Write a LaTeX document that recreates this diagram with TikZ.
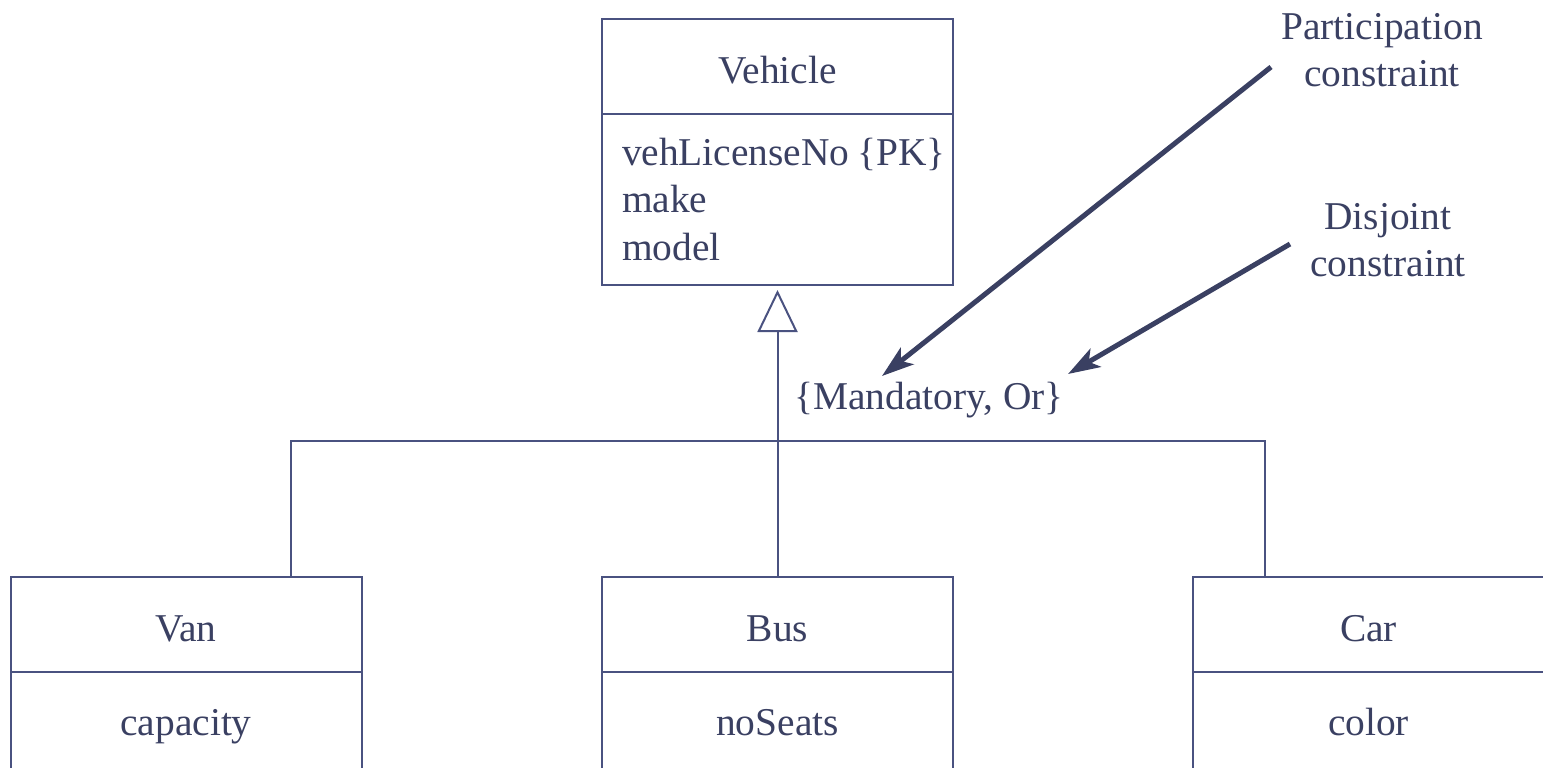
\documentclass[tikz,border=0pt]{standalone}
\usepackage{fontspec}
\setmainfont{Liberation Serif}
\usetikzlibrary{arrows.meta,calc}
\definecolor{ink}{HTML}{3A4062}
\definecolor{rulecol}{HTML}{4A5280}
\begin{document}
\begin{tikzpicture}[x=0.5pt,y=-0.5pt,
  every node/.style={text=ink, font=\fontsize{19.7pt}{23.75pt}\selectfont},
  classhead/.style={draw=rulecol, line width=1pt, outer sep=0pt,
    minimum width=175.5pt, minimum height=47.5pt, inner sep=0pt,
    text height=17pt, text depth=0pt},
  classbody/.style={draw=rulecol, line width=1pt, outer sep=0pt,
    minimum width=175.5pt, inner sep=0pt, anchor=north},
  subbody/.style={classbody, minimum height=55pt, text height=12pt, text depth=4pt},
  link/.style={draw=rulecol, line width=1pt},
  genarrow/.style={link, -{Triangle[open, length=21pt, width=20pt, fill=white]},
    shorten >=2.5pt},
  pointer/.style={draw=ink, line width=2.5pt,
    -{Stealth[length=16pt, width=10.5pt, inset=4pt]}},
  note/.style={align=center, inner sep=0pt}
]
\path[use as bounding box] (0,0) rectangle (1543,767);
\clip (0,0) rectangle (1543,767);

% superclass
\node[classhead] (vehhead) at (777.5,66.5) {Vehicle};
\node[classbody, minimum height=85.5pt, text width=155.5pt, align=left]
  (vehbody) at (vehhead.south) {\mbox{vehLicenseNo\kern0.2em\{PK\}}\\make\\model};

% subclasses
\node[classhead] (vanhead) at (186,624.5) {Van};
\node[subbody] (vanbody) at (vanhead.south) {capacity};
\node[classhead] (bushead) at (777.5,624.5) {Bus};
\node[subbody] (busbody) at (bushead.south) {noSeats};
\node[classhead] (carhead) at (1368.5,624.5) {Car};
\node[subbody] (carbody) at (carhead.south) {color};

% generalization tree
\coordinate (split) at (777.5,441);
\draw[link] ([xshift=52.5pt]vanhead.north) |- (split) -| ([xshift=-51.75pt]carhead.north);
\draw[genarrow] (bushead.north) -- (vehbody.south);

% constraint and its annotations
\node[inner sep=0pt] (cons) at (929,400) {\{Mandatory, Or\}};
\node[note] (plabel) at (1382,50) {Participation\\constraint};
\node[note] (dlabel) at (1388,240) {Disjoint\\constraint};

\coordinate (ptail) at (1271,67);
\coordinate (ptip) at (882,376);
\coordinate (dtail) at (1290,244);
\coordinate (dtip) at (1068,374);
\draw[pointer] (ptail) -- (ptip);
\draw[pointer] (dtail) -- (dtip);
\end{tikzpicture}
\end{document}
